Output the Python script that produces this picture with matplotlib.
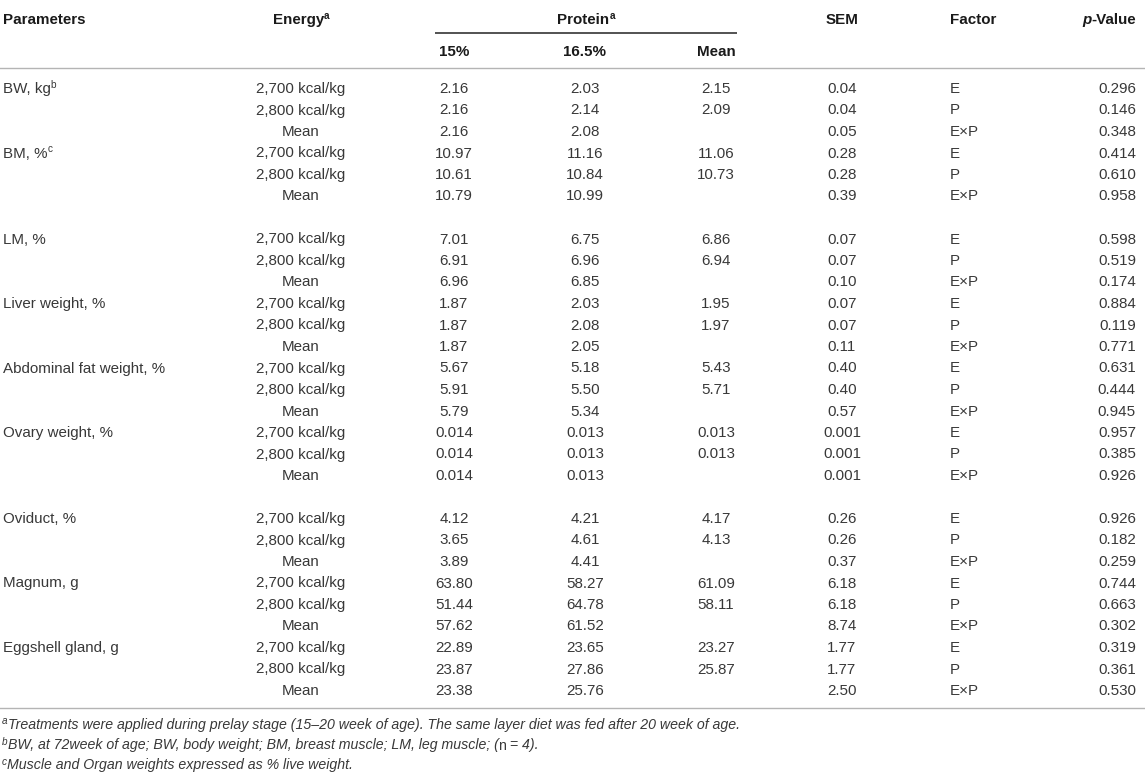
import numpy as np
import matplotlib
matplotlib.use("Agg")
import matplotlib.pyplot as plt

plt.rcParams['font.family'] = ['Liberation Sans', 'DejaVu Sans']

# table data
parameters = [("BW, kg", "b"), ("BM, %", "c"), ("LM, %", ""), ("Liver weight, %", ""),
              ("Abdominal fat weight, %", ""), ("Ovary weight, %", ""), ("Oviduct, %", ""),
              ("Magnum, g", ""), ("Eggshell gland, g", "")]
energy_levels = ["2,700 kcal/kg", "2,800 kcal/kg", "Mean"]
factors = ["E", "P", "E\u00d7P"]

protein_15 = [["2.16", "2.16", "2.16"], ["10.97", "10.61", "10.79"], ["7.01", "6.91", "6.96"],
              ["1.87", "1.87", "1.87"], ["5.67", "5.91", "5.79"], ["0.014", "0.014", "0.014"],
              ["4.12", "3.65", "3.89"], ["63.80", "51.44", "57.62"], ["22.89", "23.87", "23.38"]]
protein_165 = [["2.03", "2.14", "2.08"], ["11.16", "10.84", "10.99"], ["6.75", "6.96", "6.85"],
               ["2.03", "2.08", "2.05"], ["5.18", "5.50", "5.34"], ["0.013", "0.013", "0.013"],
               ["4.21", "4.61", "4.41"], ["58.27", "64.78", "61.52"], ["23.65", "27.86", "25.76"]]
protein_mean = [["2.15", "2.09", ""], ["11.06", "10.73", ""], ["6.86", "6.94", ""],
                ["1.95", "1.97", ""], ["5.43", "5.71", ""], ["0.013", "0.013", ""],
                ["4.17", "4.13", ""], ["61.09", "58.11", ""], ["23.27", "25.87", ""]]
sem = [["0.04", "0.04", "0.05"], ["0.28", "0.28", "0.39"], ["0.07", "0.07", "0.10"],
       ["0.07", "0.07", "0.11"], ["0.40", "0.40", "0.57"], ["0.001", "0.001", "0.001"],
       ["0.26", "0.26", "0.37"], ["6.18", "6.18", "8.74"], ["1.77", "1.77", "2.50"]]
p_values = [["0.296", "0.146", "0.348"], ["0.414", "0.610", "0.958"], ["0.598", "0.519", "0.174"],
            ["0.884", "0.119", "0.771"], ["0.631", "0.444", "0.945"], ["0.957", "0.385", "0.926"],
            ["0.926", "0.182", "0.259"], ["0.744", "0.663", "0.302"], ["0.319", "0.361", "0.530"]]

footnote_a = "Treatments were applied during prelay stage (15\u201320 week of age). The same layer diet was fed after 20 week of age."
footnote_b = ["BW, at 72week of age; BW, body weight; BM, breast muscle; LM, leg muscle; (", "n", " = 4)."]
footnote_c = "Muscle and Organ weights expressed as % live weight."

# layout (pixels)
W, H = 1145, 774
fig = plt.figure(figsize=(W / 100, H / 100), dpi=100)
ax = fig.add_axes([0, 0, 1, 1])
ax.set_xlim(0, W)
ax.set_ylim(H, 0)
ax.axis('off')
renderer = fig.canvas.get_renderer()

body = dict(fontsize=10.9, color='#383838')
head = dict(fontsize=10.9, color='#1a1a1a', fontweight='bold')
note = dict(fontsize=10.2, color='#383838', fontstyle='italic')


def runs(x, yb, parts, align='left'):
    """draw a list of (text, style, raise_px) pieces side by side on one baseline"""
    objs = []
    for s, st, up in parts:
        objs.append((ax.text(0, yb - up, s, ha='left', va='baseline', **st), up))
    widths = [o.get_window_extent(renderer).width for o, _ in objs]
    total = sum(widths)
    if align == 'center':
        x = x - total / 2
    elif align == 'right':
        x = x - total
    for (o, up), w in zip(objs, widths):
        o.set_position((x, yb - up))
        x += w


def small(st, size=7.2):
    d = dict(st)
    d['fontsize'] = size
    return d


x_par, x_en, x_15, x_165, x_mean, x_sem, x_fac, x_p = 3, 301, 454, 585, 716, 842, 950, 1136

# header
ax.text(x_par, 24, "Parameters", ha='left', va='baseline', **head)
runs(x_en, 24, [("Energy", head, 0), ("a", small(head), 5)], 'center')
runs(586, 24, [("Protein", head, 0), ("a", small(head), 5)], 'center')
ax.text(x_sem, 24, "SEM", ha='center', va='baseline', **head)
ax.text(x_fac, 24, "Factor", ha='left', va='baseline', **head)
runs(x_p, 24, [("p", dict(head, fontstyle='italic'), 0), ("-Value", head, 0)], 'right')
for lab, x in zip(["15%", "16.5%", "Mean"], [x_15, x_165, x_mean]):
    ax.text(x, 56, lab, ha='center', va='baseline', **head)

ax.plot([435, 737], [33, 33], color='#444444', lw=1.3, solid_capstyle='butt')
ax.plot([0, W], [68, 68], color='#b4b4b4', lw=1.0)
ax.plot([0, W], [708, 708], color='#b4b4b4', lw=1.0)

# body rows
y0, pitch = 88, 21.5
row = 0
for g, (name, sup) in enumerate(parameters):
    for k in range(3):
        yb = y0 + row * pitch + 5
        if k == 0:
            if sup:
                runs(x_par, yb, [(name, body, 0), (sup, small(body), 5)])
            else:
                ax.text(x_par, yb, name, ha='left', va='baseline', **body)
        ax.text(x_en, yb, energy_levels[k], ha='center', va='baseline', **body)
        ax.text(x_15, yb, protein_15[g][k], ha='center', va='baseline', **body)
        ax.text(x_165, yb, protein_165[g][k], ha='center', va='baseline', **body)
        if protein_mean[g][k]:
            ax.text(x_mean, yb, protein_mean[g][k], ha='center', va='baseline', **body)
        ax.text(x_sem, yb, sem[g][k], ha='center', va='baseline', **body)
        ax.text(x_fac, yb, factors[k], ha='left', va='baseline', **body)
        ax.text(x_p, yb, p_values[g][k], ha='right', va='baseline', **body)
        row += 1
    if g in (1, 5):
        row += 1  # blank spacer row

# footnotes
upright = dict(note, fontstyle='normal')
runs(2, 729, [("a", small(note, 7.2), 4.5), (footnote_a, note, 0)])
runs(2, 749.5, [("b", small(note, 7.2), 4.5), (footnote_b[0], note, 0),
                (footnote_b[1], upright, 0), (footnote_b[2], note, 0)])
runs(2, 769.5, [("c", small(note, 7.2), 4.5), (footnote_c, note, 0)])

fig.savefig("out.png", dpi=100)
